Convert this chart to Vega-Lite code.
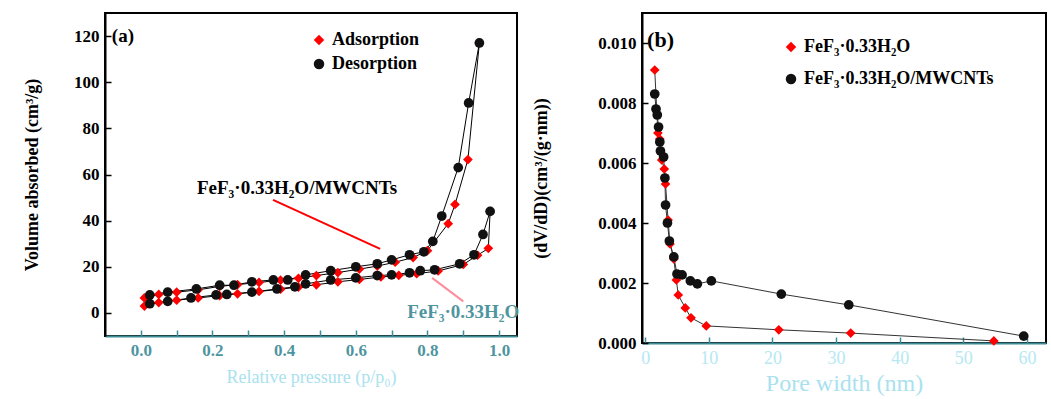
{
  "$schema": "https://vega.github.io/schema/vega-lite/v6.json",
  "background": "white",
  "padding": {"left": 22, "top": 12, "right": 0, "bottom": 0},
  "spacing": 10,
  "config": {
    "view": {"stroke": "black", "strokeWidth": 2},
    "font": "Liberation Serif",
    "axis": {
      "grid": false,
      "labelFont": "Liberation Serif", "labelFontWeight": "bold", "labelFontSize": 17, "labelColor": "black",
      "titleFont": "Liberation Serif", "titleFontWeight": "bold", "titleFontSize": 18, "titleColor": "black",
      "domainColor": "black", "domainWidth": 2, "tickColor": "black", "tickWidth": 1.5, "tickSize": -6, "labelPadding": 12
    },
    "legend": {"labelFont": "Liberation Serif", "labelFontWeight": "bold", "labelFontSize": 18, "labelColor": "black", "symbolStrokeWidth": 1, "labelLimit": 400}
  },
  "resolve": {"scale": {"color": "independent", "shape": "independent"}, "legend": {"color": "independent", "shape": "independent"}},
  "datasets": {
    "iso": [
      {"s": "MWCNTs", "b": "Adsorption", "o": 1, "p": 0.01, "v": 6.5},
      {"s": "MWCNTs", "b": "Adsorption", "o": 2, "p": 0.05, "v": 8},
      {"s": "MWCNTs", "b": "Adsorption", "o": 3, "p": 0.1, "v": 9},
      {"s": "MWCNTs", "b": "Adsorption", "o": 4, "p": 0.16, "v": 10},
      {"s": "MWCNTs", "b": "Adsorption", "o": 5, "p": 0.22, "v": 11.5},
      {"s": "MWCNTs", "b": "Adsorption", "o": 6, "p": 0.27, "v": 12.3},
      {"s": "MWCNTs", "b": "Adsorption", "o": 7, "p": 0.33, "v": 13.2},
      {"s": "MWCNTs", "b": "Adsorption", "o": 8, "p": 0.39, "v": 14.2},
      {"s": "MWCNTs", "b": "Adsorption", "o": 9, "p": 0.44, "v": 15},
      {"s": "MWCNTs", "b": "Adsorption", "o": 10, "p": 0.49, "v": 16.2},
      {"s": "MWCNTs", "b": "Adsorption", "o": 11, "p": 0.55, "v": 17.5},
      {"s": "MWCNTs", "b": "Adsorption", "o": 12, "p": 0.61, "v": 19},
      {"s": "MWCNTs", "b": "Adsorption", "o": 13, "p": 0.66, "v": 20.3},
      {"s": "MWCNTs", "b": "Adsorption", "o": 14, "p": 0.71, "v": 22},
      {"s": "MWCNTs", "b": "Adsorption", "o": 15, "p": 0.76, "v": 24},
      {"s": "MWCNTs", "b": "Adsorption", "o": 16, "p": 0.8, "v": 27},
      {"s": "MWCNTs", "b": "Adsorption", "o": 17, "p": 0.858, "v": 38.7},
      {"s": "MWCNTs", "b": "Adsorption", "o": 18, "p": 0.877, "v": 47},
      {"s": "MWCNTs", "b": "Adsorption", "o": 19, "p": 0.913, "v": 66.5},
      {"s": "MWCNTs", "b": "Adsorption", "o": 20, "p": 0.945, "v": 117},
      {"s": "MWCNTs", "b": "Desorption", "o": 1, "p": 0.945, "v": 117},
      {"s": "MWCNTs", "b": "Desorption", "o": 2, "p": 0.915, "v": 91},
      {"s": "MWCNTs", "b": "Desorption", "o": 3, "p": 0.886, "v": 63},
      {"s": "MWCNTs", "b": "Desorption", "o": 4, "p": 0.84, "v": 42},
      {"s": "MWCNTs", "b": "Desorption", "o": 5, "p": 0.815, "v": 31},
      {"s": "MWCNTs", "b": "Desorption", "o": 6, "p": 0.79, "v": 26.5},
      {"s": "MWCNTs", "b": "Desorption", "o": 7, "p": 0.75, "v": 25.2},
      {"s": "MWCNTs", "b": "Desorption", "o": 8, "p": 0.7, "v": 23},
      {"s": "MWCNTs", "b": "Desorption", "o": 9, "p": 0.66, "v": 21.3},
      {"s": "MWCNTs", "b": "Desorption", "o": 10, "p": 0.6, "v": 20},
      {"s": "MWCNTs", "b": "Desorption", "o": 11, "p": 0.53, "v": 18.3},
      {"s": "MWCNTs", "b": "Desorption", "o": 12, "p": 0.46, "v": 16.5},
      {"s": "MWCNTs", "b": "Desorption", "o": 13, "p": 0.41, "v": 14.3},
      {"s": "MWCNTs", "b": "Desorption", "o": 14, "p": 0.37, "v": 14.3},
      {"s": "MWCNTs", "b": "Desorption", "o": 15, "p": 0.31, "v": 13.5},
      {"s": "MWCNTs", "b": "Desorption", "o": 16, "p": 0.26, "v": 12},
      {"s": "MWCNTs", "b": "Desorption", "o": 17, "p": 0.22, "v": 12},
      {"s": "MWCNTs", "b": "Desorption", "o": 18, "p": 0.155, "v": 10.4},
      {"s": "MWCNTs", "b": "Desorption", "o": 19, "p": 0.075, "v": 9},
      {"s": "MWCNTs", "b": "Desorption", "o": 20, "p": 0.025, "v": 7.8},
      {"s": "FeF3", "b": "Adsorption", "o": 1, "p": 0.01, "v": 3},
      {"s": "FeF3", "b": "Adsorption", "o": 2, "p": 0.05, "v": 4.5},
      {"s": "FeF3", "b": "Adsorption", "o": 3, "p": 0.1, "v": 5.5},
      {"s": "FeF3", "b": "Adsorption", "o": 4, "p": 0.16, "v": 6.5},
      {"s": "FeF3", "b": "Adsorption", "o": 5, "p": 0.22, "v": 7.5},
      {"s": "FeF3", "b": "Adsorption", "o": 6, "p": 0.27, "v": 8.3},
      {"s": "FeF3", "b": "Adsorption", "o": 7, "p": 0.33, "v": 9.3},
      {"s": "FeF3", "b": "Adsorption", "o": 8, "p": 0.39, "v": 10.3},
      {"s": "FeF3", "b": "Adsorption", "o": 9, "p": 0.44, "v": 11.2},
      {"s": "FeF3", "b": "Adsorption", "o": 10, "p": 0.49, "v": 12.2},
      {"s": "FeF3", "b": "Adsorption", "o": 11, "p": 0.55, "v": 13.5},
      {"s": "FeF3", "b": "Adsorption", "o": 12, "p": 0.61, "v": 14.5},
      {"s": "FeF3", "b": "Adsorption", "o": 13, "p": 0.67, "v": 15.6},
      {"s": "FeF3", "b": "Adsorption", "o": 14, "p": 0.72, "v": 16.3},
      {"s": "FeF3", "b": "Adsorption", "o": 15, "p": 0.77, "v": 17},
      {"s": "FeF3", "b": "Adsorption", "o": 16, "p": 0.83, "v": 18.2},
      {"s": "FeF3", "b": "Adsorption", "o": 17, "p": 0.9, "v": 21},
      {"s": "FeF3", "b": "Adsorption", "o": 18, "p": 0.94, "v": 25},
      {"s": "FeF3", "b": "Adsorption", "o": 19, "p": 0.97, "v": 28},
      {"s": "FeF3", "b": "Adsorption", "o": 20, "p": 0.975, "v": 44},
      {"s": "FeF3", "b": "Desorption", "o": 1, "p": 0.975, "v": 44},
      {"s": "FeF3", "b": "Desorption", "o": 2, "p": 0.955, "v": 34},
      {"s": "FeF3", "b": "Desorption", "o": 3, "p": 0.93, "v": 25.2},
      {"s": "FeF3", "b": "Desorption", "o": 4, "p": 0.89, "v": 21.3},
      {"s": "FeF3", "b": "Desorption", "o": 5, "p": 0.82, "v": 18.7},
      {"s": "FeF3", "b": "Desorption", "o": 6, "p": 0.78, "v": 18.3},
      {"s": "FeF3", "b": "Desorption", "o": 7, "p": 0.75, "v": 17.4},
      {"s": "FeF3", "b": "Desorption", "o": 8, "p": 0.7, "v": 16.5},
      {"s": "FeF3", "b": "Desorption", "o": 9, "p": 0.66, "v": 16.2},
      {"s": "FeF3", "b": "Desorption", "o": 10, "p": 0.6, "v": 15.2},
      {"s": "FeF3", "b": "Desorption", "o": 11, "p": 0.53, "v": 14.3},
      {"s": "FeF3", "b": "Desorption", "o": 12, "p": 0.46, "v": 12.6},
      {"s": "FeF3", "b": "Desorption", "o": 13, "p": 0.43, "v": 11.3},
      {"s": "FeF3", "b": "Desorption", "o": 14, "p": 0.38, "v": 10.4},
      {"s": "FeF3", "b": "Desorption", "o": 15, "p": 0.31, "v": 9},
      {"s": "FeF3", "b": "Desorption", "o": 16, "p": 0.24, "v": 8},
      {"s": "FeF3", "b": "Desorption", "o": 17, "p": 0.21, "v": 7.8},
      {"s": "FeF3", "b": "Desorption", "o": 18, "p": 0.14, "v": 6.5},
      {"s": "FeF3", "b": "Desorption", "o": 19, "p": 0.075, "v": 5},
      {"s": "FeF3", "b": "Desorption", "o": 20, "p": 0.025, "v": 4}
    ],
    "psd": [
      {"s": "FeF₃·0.33H₂O", "d": 1.5, "y": 0.0091},
      {"s": "FeF₃·0.33H₂O", "d": 2.0, "y": 0.0070},
      {"s": "FeF₃·0.33H₂O", "d": 2.3, "y": 0.0068},
      {"s": "FeF₃·0.33H₂O", "d": 2.6, "y": 0.0061},
      {"s": "FeF₃·0.33H₂O", "d": 3.0, "y": 0.0058},
      {"s": "FeF₃·0.33H₂O", "d": 3.2, "y": 0.0053},
      {"s": "FeF₃·0.33H₂O", "d": 3.6, "y": 0.0041},
      {"s": "FeF₃·0.33H₂O", "d": 3.9, "y": 0.0033},
      {"s": "FeF₃·0.33H₂O", "d": 4.5, "y": 0.0028},
      {"s": "FeF₃·0.33H₂O", "d": 4.9, "y": 0.0021},
      {"s": "FeF₃·0.33H₂O", "d": 5.2, "y": 0.0016},
      {"s": "FeF₃·0.33H₂O", "d": 6.3, "y": 0.00117},
      {"s": "FeF₃·0.33H₂O", "d": 7.2, "y": 0.00084},
      {"s": "FeF₃·0.33H₂O", "d": 9.6, "y": 0.00057},
      {"s": "FeF₃·0.33H₂O", "d": 21.0, "y": 0.00044},
      {"s": "FeF₃·0.33H₂O", "d": 32.3, "y": 0.00033},
      {"s": "FeF₃·0.33H₂O", "d": 54.8, "y": 0.00007},
      {"s": "FeF₃·0.33H₂O/MWCNTs", "d": 1.5, "y": 0.0083},
      {"s": "FeF₃·0.33H₂O/MWCNTs", "d": 1.7, "y": 0.0078},
      {"s": "FeF₃·0.33H₂O/MWCNTs", "d": 1.9, "y": 0.0076},
      {"s": "FeF₃·0.33H₂O/MWCNTs", "d": 2.1, "y": 0.0072},
      {"s": "FeF₃·0.33H₂O/MWCNTs", "d": 2.3, "y": 0.0067},
      {"s": "FeF₃·0.33H₂O/MWCNTs", "d": 2.4, "y": 0.0064},
      {"s": "FeF₃·0.33H₂O/MWCNTs", "d": 2.9, "y": 0.0062},
      {"s": "FeF₃·0.33H₂O/MWCNTs", "d": 3.1, "y": 0.0055},
      {"s": "FeF₃·0.33H₂O/MWCNTs", "d": 3.2, "y": 0.0046},
      {"s": "FeF₃·0.33H₂O/MWCNTs", "d": 3.5, "y": 0.0040},
      {"s": "FeF₃·0.33H₂O/MWCNTs", "d": 3.8, "y": 0.0034},
      {"s": "FeF₃·0.33H₂O/MWCNTs", "d": 4.5, "y": 0.00287},
      {"s": "FeF₃·0.33H₂O/MWCNTs", "d": 5.0, "y": 0.0023},
      {"s": "FeF₃·0.33H₂O/MWCNTs", "d": 5.8, "y": 0.00227},
      {"s": "FeF₃·0.33H₂O/MWCNTs", "d": 7.1, "y": 0.00207},
      {"s": "FeF₃·0.33H₂O/MWCNTs", "d": 8.2, "y": 0.00197},
      {"s": "FeF₃·0.33H₂O/MWCNTs", "d": 10.4, "y": 0.00207},
      {"s": "FeF₃·0.33H₂O/MWCNTs", "d": 21.4, "y": 0.00163},
      {"s": "FeF₃·0.33H₂O/MWCNTs", "d": 32.0, "y": 0.00127},
      {"s": "FeF₃·0.33H₂O/MWCNTs", "d": 59.5, "y": 0.00023}
    ],
    "labelsA": [
      {"t": "(a)", "p": -0.05, "v": 120},
      {"t": "FeF₃·0.33H₂O/MWCNTs", "p": 0.436, "v": 54}
    ],
    "labelsA2": [
      {"t": "FeF₃·0.33H₂O", "p": 0.9, "v": 0.5}
    ],
    "arrowA1": [
      {"p": 0.369, "v": 49, "p2": 0.668, "v2": 27.8}
    ],
    "arrowA2": [
      {"p": 0.9, "v": 5, "p2": 0.813, "v2": 15.2}
    ],
    "labelsB": [
      {"t": "(b)", "d": 0.3, "y": 0.0101}
    ]
  },
  "hconcat": [
    {
      "width": 412,
      "height": 323,
      "layer": [
        {
          "data": {"name": "iso"},
          "mark": {"type": "line", "color": "black", "strokeWidth": 1},
          "encoding": {
            "x": {"field": "p", "type": "quantitative", "scale": {"domain": [-0.1, 1.05], "nice": false, "zero": false},
                  "axis": {"values": [0, 0.1, 0.2, 0.3, 0.4, 0.5, 0.6, 0.7, 0.8, 0.9, 1.0], "labelExpr": "round(datum.value*10) % 2 === 0 ? format(datum.value, '.1f') : ''", "title": "Relative pressure (p/p₀)", "titleColor": "#a9e2ee", "titleFontWeight": "normal", "titleFontSize": 18, "titlePadding": 10, "labelColor": "#4f959f", "domainColor": "#3d8b95", "tickColor": "#3d8b95"}},
            "y": {"field": "v", "type": "quantitative", "scale": {"domain": [-10, 130], "nice": false, "zero": false},
                  "axis": {"values": [0, 10, 20, 30, 40, 50, 60, 70, 80, 90, 100, 110, 120], "labelExpr": "datum.value % 20 === 0 ? datum.label : ''", "title": "Volume absorbed (cm³/g)", "titlePadding": 32}},
            "detail": [{"field": "s"}, {"field": "b"}],
            "order": {"field": "o", "type": "quantitative"}
          }
        },
        {
          "data": {"name": "iso"},
          "mark": {"type": "point", "filled": true, "opacity": 1, "size": 95},
          "encoding": {
            "x": {"field": "p", "type": "quantitative"},
            "y": {"field": "v", "type": "quantitative"},
            "color": {"field": "b", "type": "nominal", "scale": {"domain": ["Adsorption", "Desorption"], "range": ["#ff0000", "#111111"]},
                      "legend": {"title": null, "orient": "none", "legendX": 205, "legendY": 18, "rowPadding": 6, "symbolSize": 110}},
            "shape": {"field": "b", "type": "nominal", "scale": {"domain": ["Adsorption", "Desorption"], "range": ["diamond", "circle"]},
                      "legend": {"title": null, "orient": "none", "legendX": 205, "legendY": 18, "rowPadding": 6, "symbolSize": 110}}
          }
        },
        {
          "data": {"name": "arrowA1"},
          "mark": {"type": "rule", "strokeWidth": 2, "color": "#ff0000"},
          "encoding": {
            "x": {"field": "p", "type": "quantitative"},
            "y": {"field": "v", "type": "quantitative"},
            "x2": {"field": "p2"},
            "y2": {"field": "v2"}
          }
        },
        {
          "data": {"name": "arrowA2"},
          "mark": {"type": "rule", "strokeWidth": 2, "color": "#ff8c9c"},
          "encoding": {
            "x": {"field": "p", "type": "quantitative"},
            "y": {"field": "v", "type": "quantitative"},
            "x2": {"field": "p2"},
            "y2": {"field": "v2"}
          }
        },
        {
          "data": {"name": "labelsA"},
          "mark": {"type": "text", "font": "Liberation Serif", "fontWeight": "bold", "fontSize": 19, "color": "black"},
          "encoding": {
            "x": {"field": "p", "type": "quantitative"},
            "y": {"field": "v", "type": "quantitative"},
            "text": {"field": "t"}
          }
        },
        {
          "data": {"name": "labelsA2"},
          "mark": {"type": "text", "font": "Liberation Serif", "fontWeight": "bold", "fontSize": 19, "color": "#4f959f"},
          "encoding": {
            "x": {"field": "p", "type": "quantitative"},
            "y": {"field": "v", "type": "quantitative"},
            "text": {"field": "t"}
          }
        }
      ]
    },
    {
      "width": 404,
      "height": 330,
      "layer": [
        {
          "data": {"name": "psd"},
          "mark": {"type": "line", "color": "#333333", "strokeWidth": 1},
          "encoding": {
            "x": {"field": "d", "type": "quantitative", "scale": {"domain": [-0.5, 63], "nice": false, "zero": false},
                  "axis": {"values": [0, 5, 10, 15, 20, 25, 30, 35, 40, 45, 50, 55, 60], "labelExpr": "datum.value % 10 === 0 ? datum.label : ''", "title": "Pore width (nm)", "titleColor": "#a9e2ee", "titleFontWeight": "normal", "titleFontSize": 24, "titlePadding": 4, "labelColor": "#b5e8f2", "labelFontWeight": "normal", "labelFontSize": 18, "domainColor": "#3d8b95", "tickColor": "#3d8b95"}},
            "y": {"field": "y", "type": "quantitative", "scale": {"domain": [0, 0.011], "nice": false, "zero": false},
                  "axis": {"values": [0, 0.001, 0.002, 0.003, 0.004, 0.005, 0.006, 0.007, 0.008, 0.009, 0.01], "labelExpr": "round(datum.value*1000) % 2 === 0 ? format(datum.value, '.3f') : ''", "title": "(dV/dD)(cm³/(g·nm))", "titlePadding": 47}},
            "detail": {"field": "s"}
          }
        },
        {
          "data": {"name": "psd"},
          "mark": {"type": "point", "filled": true, "opacity": 1, "size": 95},
          "encoding": {
            "x": {"field": "d", "type": "quantitative"},
            "y": {"field": "y", "type": "quantitative"},
            "color": {"field": "s", "type": "nominal", "scale": {"domain": ["FeF₃·0.33H₂O", "FeF₃·0.33H₂O/MWCNTs"], "range": ["#ff0000", "#111111"]},
                      "legend": {"title": null, "orient": "none", "legendX": 140, "legendY": 25, "rowPadding": 14, "symbolSize": 110}},
            "shape": {"field": "s", "type": "nominal", "scale": {"domain": ["FeF₃·0.33H₂O", "FeF₃·0.33H₂O/MWCNTs"], "range": ["diamond", "circle"]},
                      "legend": {"title": null, "orient": "none", "legendX": 140, "legendY": 25, "rowPadding": 14, "symbolSize": 110}}
          }
        },
        {
          "data": {"name": "labelsB"},
          "mark": {"type": "text", "font": "Liberation Serif", "fontWeight": "bold", "fontSize": 22, "color": "black", "align": "left"},
          "encoding": {
            "x": {"field": "d", "type": "quantitative"},
            "y": {"field": "y", "type": "quantitative"},
            "text": {"field": "t"}
          }
        }
      ]
    }
  ]
}
